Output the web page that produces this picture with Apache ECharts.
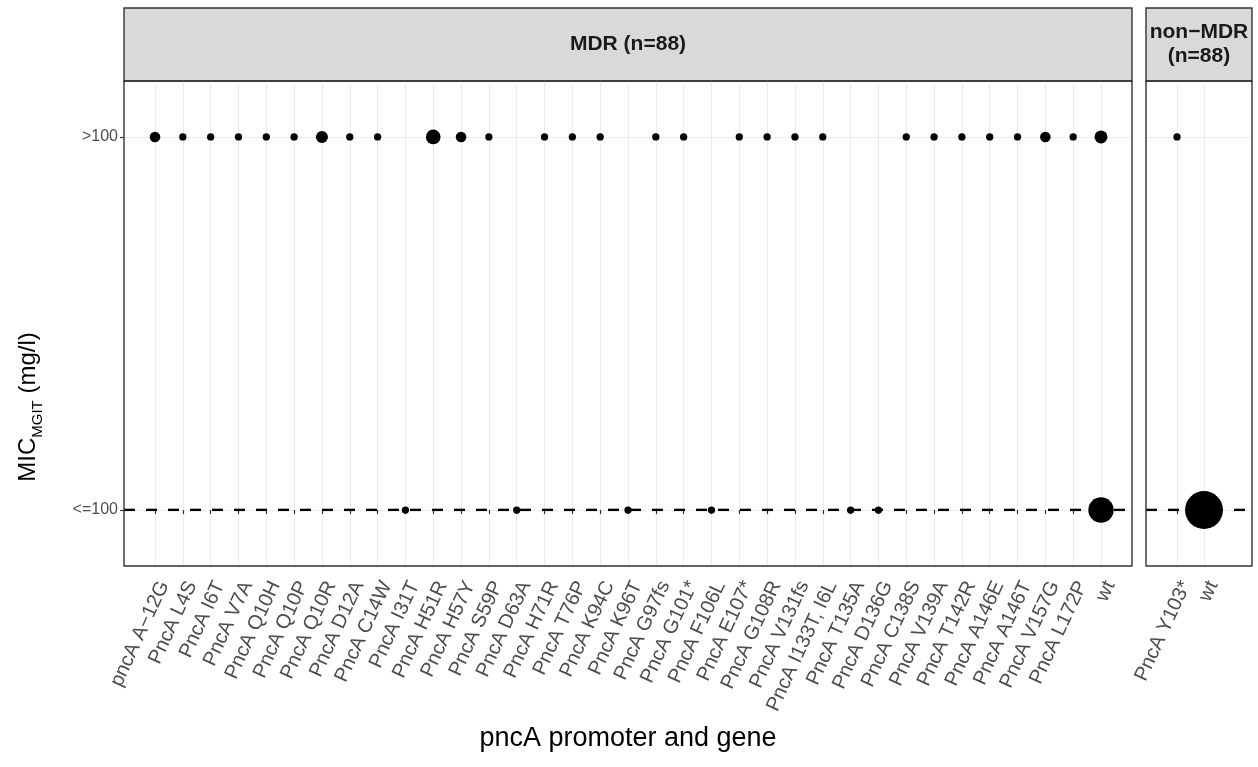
<!DOCTYPE html>
<html>
<head>
<meta charset="utf-8">
<script src="https://cdn.jsdelivr.net/npm/echarts@6/dist/echarts.min.js"></script>
<style>html,body{margin:0;padding:0;background:#fff;}#c{width:1258px;height:767px;}</style>
</head>
<body>
<div id="c"></div>
<script>
// ---- data ----
const yLevels = ['<=100', '>100'];
const mdrCategories = ['pncA A\u221212G','PncA L4S','PncA I6T','PncA V7A','PncA Q10H','PncA Q10P','PncA Q10R','PncA D12A','PncA C14W','PncA I31T','PncA H51R','PncA H57Y','PncA S59P','PncA D63A','PncA H71R','PncA T76P','PncA K94C','PncA K96T','PncA G97fs','PncA G101*','PncA F106L','PncA E107*','PncA G108R','PncA V131fs','PncA I133T, I6L','PncA T135A','PncA D136G','PncA C138S','PncA V139A','PncA T142R','PncA A146E','PncA A146T','PncA V157G','PncA L172P','wt'];
// counts of isolates with MIC >100 and <=100 (0 = no point)
const mdrHighN = [2,1,1,1,1,1,3,1,1,0,6,2,1,0,1,1,1,0,1,1,0,1,1,1,1,0,0,1,1,1,1,1,2,1,4];
const mdrLowN  = [0,0,0,0,0,0,0,0,0,1,0,0,0,1,0,0,0,1,0,0,1,0,0,0,0,1,1,0,0,0,0,0,0,0,31];
const nonCategories = ['PncA Y103*','wt'];
const nonHighN = [1,0];
const nonLowN  = [0,87];
const stripLabels = ['MDR (n=88)', 'non\u2212MDR\n(n=88)'];
const xTitle = 'pncA promoter and gene';

function points(cats, hi, lo) {
  const out = [];
  cats.forEach((c, i) => {
    if (hi[i] > 0) out.push([c, 1, hi[i]]);
    if (lo[i] > 0) out.push([c, 0, lo[i]]);
  });
  return out;
}

const FONT = 'Liberation Sans, Arial, Helvetica, sans-serif';
const PT = 81, PH = 485;         // panel top / height
const LT = 137, LH = 373;        // level band
const L = {x: 124, w: 1008, d0: 155, dw: 946};
const R = {x: 1146, w: 106, d0: 1177, dw: 27};

const grids = [];
const xAxes = [];
const yAxes = [];
const series = [];
const hiddenVal = (gi) => ({gridIndex: gi, type: 'value', show: false, min: 0, max: 1});

function panel(P, cats, hi, lo, isLeft) {
  const g0 = grids.length;
  // strip
  grids.push({left: P.x, top: 8, width: P.w, height: PT - 8, show: true, backgroundColor: '#d9d9d9', borderColor: '#333333', borderWidth: 1.4, z: 0});
  xAxes.push(hiddenVal(g0)); yAxes.push(hiddenVal(g0));
  // frame
  grids.push({left: P.x, top: PT, width: P.w, height: PH, show: true, backgroundColor: 'transparent', borderColor: '#333333', borderWidth: 1.4, z: 5});
  xAxes.push(hiddenVal(g0 + 1)); yAxes.push(hiddenVal(g0 + 1));
  // data grid with x categories
  grids.push({left: P.d0, top: PT, width: P.dw, height: PH});
  xAxes.push({
    gridIndex: g0 + 2, type: 'category', data: cats, boundaryGap: false, position: 'bottom',
    axisLine: {show: false},
    axisTick: {show: true, length: 4, lineStyle: {color: '#333333', width: 1.2}},
    axisLabel: {interval: 0, rotate: 65, margin: 12, verticalAlign: 'top',
      fontSize: 20, color: '#4d4d4d', fontFamily: FONT},
    splitLine: {show: true, lineStyle: {color: '#ebebeb', width: 1}},
    name: isLeft ? xTitle : '', nameLocation: 'middle', nameGap: 159,
    nameTextStyle: {fontSize: 27, color: '#000', fontFamily: FONT}
  });
  yAxes.push({gridIndex: g0 + 2, type: 'value', show: false, min: -0.15, max: 1.15});
  // horizontal level grid
  grids.push({left: P.x, top: LT, width: P.w, height: LH});
  xAxes.push(hiddenVal(g0 + 3));
  yAxes.push({
    gridIndex: g0 + 3, type: 'category', data: yLevels, boundaryGap: false,
    axisLine: {show: false},
    axisTick: {show: isLeft, length: 4, lineStyle: {color: '#333333', width: 1.2}},
    axisLabel: {show: isLeft, margin: 6, fontSize: 16, color: '#4d4d4d', fontFamily: FONT},
    splitLine: {show: true, lineStyle: {color: '#ebebeb', width: 1}}
  });
  // dashed reference line at <=100
  series.push({
    type: 'line', xAxisIndex: g0 + 3, yAxisIndex: g0 + 3, silent: true, symbol: 'none', z: 1,
    data: [[0, yLevels[0]], [1, yLevels[0]]],
    lineStyle: {color: '#000', width: 2.6, type: [11, 11]}
  });
  // points
  series.push({
    type: 'scatter', xAxisIndex: g0 + 2, yAxisIndex: g0 + 2, z: 6, silent: true,
    data: points(cats, hi, lo),
    symbolSize: (v) => 7.3 + 3.3 * Math.sqrt(v[2] - 1),
    itemStyle: {color: '#000', opacity: 1}
  });
}

panel(L, mdrCategories, mdrHighN, mdrLowN, true);
panel(R, nonCategories, nonHighN, nonLowN, false);

const chart = echarts.init(document.getElementById('c'), null, {renderer: 'canvas'});
chart.setOption({
  backgroundColor: '#fff',
  animation: false,
  textStyle: {fontFamily: FONT},
  grid: grids, xAxis: xAxes, yAxis: yAxes, series: series,
  graphic: [
    {type: 'text', x: L.x + L.w / 2, y: 8 + (PT - 8) / 2, z: 10,
     style: {text: stripLabels[0], align: 'center', verticalAlign: 'middle', font: 'bold 21px ' + FONT, fill: '#1a1a1a'}},
    {type: 'text', x: R.x + R.w / 2, y: 8 + (PT - 8) / 2, z: 10,
     style: {text: stripLabels[1], align: 'center', verticalAlign: 'middle', font: 'bold 21px ' + FONT, fill: '#1a1a1a', lineHeight: 24}},
    {type: 'text', x: 31, y: 407, rotation: Math.PI / 2, z: 10,
     style: {text: '{a|MIC}{b|MGIT}{a| (mg/l)}', align: 'center', verticalAlign: 'middle', fill: '#000',
       rich: {
         a: {fontSize: 24, fontFamily: FONT, fill: '#000', padding: [0, 0, 5, 0], verticalAlign: 'bottom'},
         b: {fontSize: 15, fontFamily: FONT, fill: '#000', verticalAlign: 'bottom'}
       }}}
  ]
});
</script>
</body>
</html>
